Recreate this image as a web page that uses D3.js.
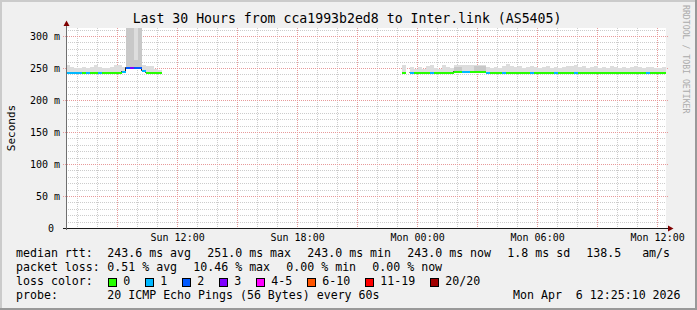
<!DOCTYPE html>
<html>
<head>
<meta charset="utf-8">
<script src="https://cdn.jsdelivr.net/npm/d3@7"></script>
<style>
body{margin:0;background:#f0f0f0;}
svg text{font-family:"DejaVu Sans Mono",monospace;white-space:pre;}
</style>
</head>
<body>
<svg id="chart" width="697" height="310"></svg>
<script>
// time window of the graph and the 12 minute bins of the smoke data
var startTime = new Date(2026,3,5,6,25,10);
var endTime = new Date(2026,3,6,12,25,10);
var binStart = new Date(2026,3,5,6,24,0);
var binMinutes = 12;

// median rtt per bin (ms), null = no data
var median = [
	243,243,243,243,243,243,243,243,243,243,
	243,243,243,243,244.5,251,251,251,251,246.5,
	243,243,243,243,null,null,null,null,null,null,
	null,null,null,null,null,null,null,null,null,null,
	null,null,null,null,null,null,null,null,null,null,
	null,null,null,null,null,null,null,null,null,null,
	null,null,null,null,null,null,null,null,null,null,
	null,null,null,null,null,null,null,null,null,null,
	null,null,null,null,243,null,243,243,243,243,
	243,243,243,243,243,243,243,244.6,244.6,244.6,
	244.6,244.6,244.6,244.6,244.6,243,243,243,243,243,
	243,243,243,243,243,243,243,243,243,243,
	243,243,243,243,243,243,243,243,243,243,
	243,243,243,243,243,243,243,243,243,243,
	243,243,243,243,243,243,243,243,243,243
];
// lost pings (of 20) per bin
var loss = [
	0.2,0.2,0.15,0.1,0,0.1,0,0,0.15,0,
	0,0,0,0,0.2,1.4,2.09,1.6,1.3,0.3,
	0,0,0,0,null,null,null,null,null,null,
	null,null,null,null,null,null,null,null,null,null,
	null,null,null,null,null,null,null,null,null,null,
	null,null,null,null,null,null,null,null,null,null,
	null,null,null,null,null,null,null,null,null,null,
	null,null,null,null,null,null,null,null,null,null,
	null,null,null,null,0,null,0.1,0,0,0,
	0,0.1,0,0,0,0,0,0,0,0.1,
	0.15,0,0,0,0,0.1,0,0,0,0.1,
	0,0,0,0,0,0,0.1,0,0,0,
	0,0,0.1,0,0,0,0,0.1,0,0,
	0,0,0,0,0,0,0,0,0,0,
	0,0,0,0,0,0.1,0,0,0,0
];
// highest ping per bin (ms), outer smoke
var smokeHi = [
	255,252,250,250,251,250,251,255,251,250,
	250,251,254,254,252,420,420,420,420,255,
	253,253,248,247,null,null,null,null,null,null,
	null,null,null,null,null,null,null,null,null,null,
	null,null,null,null,null,null,null,null,null,null,
	null,null,null,null,null,null,null,null,null,null,
	null,null,null,null,null,null,null,null,null,null,
	null,null,null,null,null,null,null,null,null,null,
	null,null,null,null,254,null,251,249,251,249,
	253,254,250,249,255,252,250,255,255,254,
	254,254,255,255,255,251,250,252,250,253,
	257,253,252,253,250,252,253,252,250,252,
	253,250,252,250,251,253,253,254,252,253,
	250,251,253,250,251,250,253,251,250,252,
	250,251,253,252,250,251,251,250,250,251
];
// inner (darker) smoke top per bin (ms)
var smokeMid = [
	null,null,null,null,null,null,null,null,null,null,
	null,null,null,null,null,420,420,262,420,null,
	null,null,null,null,null,null,null,null,null,null,
	null,null,null,null,null,null,null,null,null,null,
	null,null,null,null,null,null,null,null,null,null,
	null,null,null,null,null,null,null,null,null,null,
	null,null,null,null,null,null,null,null,null,null,
	null,null,null,null,null,null,null,null,null,null,
	null,null,null,null,null,null,null,null,null,null,
	null,null,null,null,null,null,null,252,252,null,
	null,null,253,253,253,null,null,null,null,null,
	null,null,null,null,null,null,null,null,null,null,
	null,null,null,null,null,null,null,null,null,null,
	null,null,null,null,null,null,null,null,null,null,
	null,null,null,null,null,null,null,null,null,null
];

var lossLabels = ["0","1","2","3","4-5","6-10","11-19","20/20"];
var lossUpper = [0,1,2,3,5,10,19,20];
var lossColors = ["#26ff00","#00b8ff","#0059ff","#7e00ff","#ff00ff","#ff5500","#ff0000","#a10000"];

var yTicks = [0,50,100,150,200,250,300];
var yTickLabels = ["0\u00a0","50 m","100 m","150 m","200 m","250 m","300 m"];
var xLabelTimes = [new Date(2026,3,5,12), new Date(2026,3,5,18), new Date(2026,3,6,0), new Date(2026,3,6,6), new Date(2026,3,6,12)];

var titleText = "Last 30 Hours from cca1993b2ed8 to Inter.link (AS5405)";
var rttStats = ["243.6 ms avg","251.0 ms max","243.0 ms min","243.0 ms now","1.8 ms sd","138.5   am/s"];
var lossStats = ["0.51 % avg","10.46 % max","0.00 % min","0.00 % now"];
var probeText = "20 ICMP Echo Pings (56 Bytes) every 60s";
var stampText = "Mon Apr  6 12:25:10 2026";

var svg = d3.select("#chart");
var W = 697, H = 310;
var pLeft = 66, pRight = 666, pTop = 28, pBottom = 228;
var charW = 7.0;

var x = d3.scaleTime().domain([startTime,endTime]).range([pLeft,pRight]);
var y = d3.scaleLinear().domain([0,312.5]).range([pBottom,pTop]);

var bins = median.map(function(m,i){
	var t0 = d3.timeMinute.offset(binStart, i*binMinutes);
	return {t0:t0, t1:d3.timeMinute.offset(t0,binMinutes), median:m, loss:loss[i], hi:smokeHi[i], mid:smokeMid[i]};
});
function lossIndex(l){
	for(var k=0;k<lossUpper.length;k++){ if(l<=lossUpper[k]) return k; }
	return lossUpper.length-1;
}
function lineY(v){ return Math.round(y(v)+0.5); }

// background and 3d border
svg.append("rect").attr("width",W).attr("height",H).attr("fill","#f0f0f0");
svg.append("rect").attr("x",0).attr("y",0).attr("width",W).attr("height",2).attr("fill","#cbcbcb");
svg.append("rect").attr("x",0).attr("y",0).attr("width",2).attr("height",H).attr("fill","#cbcbcb");
svg.append("rect").attr("x",0).attr("y",H-2).attr("width",W).attr("height",2).attr("fill","#999999");
svg.append("rect").attr("x",W-2).attr("y",0).attr("width",2).attr("height",H).attr("fill","#999999");

// canvas
svg.append("rect").attr("x",pLeft).attr("y",pTop).attr("width",pRight-pLeft).attr("height",pBottom-pTop).attr("fill","#ffffff");

svg.append("clipPath").attr("id","plotclip")
	.append("rect").attr("x",pLeft).attr("y",pTop).attr("width",pRight-pLeft).attr("height",pBottom-pTop);

// grid
var grid = svg.append("g");
var minorY = d3.range(10,312.5,10).filter(function(v){ return v%50!==0; });
grid.selectAll("line.hmin").data(minorY).enter().append("line")
	.attr("x1",pLeft).attr("x2",pRight)
	.attr("y1",function(d){ return Math.round(y(d))+0.5; })
	.attr("y2",function(d){ return Math.round(y(d))+0.5; })
	.attr("stroke","#cccccc").attr("stroke-dasharray","1,1");
var hours = d3.timeHour.range(startTime,endTime).filter(function(d){ return d.getHours()%3!==0; });
grid.selectAll("line.vmin").data(hours).enter().append("line")
	.attr("x1",function(d){ return Math.floor(x(d))+0.5; })
	.attr("x2",function(d){ return Math.floor(x(d))+0.5; })
	.attr("y1",pTop).attr("y2",pBottom)
	.attr("stroke","#cccccc").attr("stroke-dasharray","1,1");
grid.selectAll("line.hmaj").data(yTicks.slice(1)).enter().append("line")
	.attr("x1",pLeft-3).attr("x2",pRight+2)
	.attr("y1",function(d){ return Math.round(y(d))+0.5; })
	.attr("y2",function(d){ return Math.round(y(d))+0.5; })
	.attr("stroke","#e79a9a").attr("stroke-dasharray","1,1");
var majors = d3.timeHour.every(3).range(startTime,endTime);
grid.selectAll("line.vmaj").data(majors).enter().append("line")
	.attr("x1",function(d){ return Math.floor(x(d))+0.5; })
	.attr("x2",function(d){ return Math.floor(x(d))+0.5; })
	.attr("y1",pTop).attr("y2",pBottom+2)
	.attr("stroke","#e79a9a").attr("stroke-dasharray","1,1");

// smoke
var plot = svg.append("g").attr("clip-path","url(#plotclip)");
var data = bins.filter(function(d){ return d.median!=null; });
plot.selectAll("rect.smoke").data(data.filter(function(d){ return d.hi!=null; })).enter().append("rect")
	.attr("x",function(d){ return Math.round(x(d.t0)); })
	.attr("width",function(d){ return Math.round(x(d.t1))-Math.round(x(d.t0)); })
	.attr("y",function(d){ return Math.round(y(d.hi)); })
	.attr("height",function(d){ return Math.max(0,lineY(d.median)-Math.round(y(d.hi))); })
	.attr("fill","#dddddd");
plot.selectAll("rect.smokemid").data(data.filter(function(d){ return d.mid!=null; })).enter().append("rect")
	.attr("x",function(d){ return Math.round(x(d.t0)); })
	.attr("width",function(d){ return Math.round(x(d.t1))-Math.round(x(d.t0)); })
	.attr("y",function(d){ return Math.round(y(d.mid)); })
	.attr("height",function(d){ return Math.max(0,lineY(d.median)-Math.round(y(d.mid))); })
	.attr("fill","#c8c8c8");

// median: thin dark step line, then loss coloured segments
var medLine = d3.line()
	.defined(function(d){ return d.median!=null; })
	.x(function(d){ return Math.round(x(d.t0))-0.5; })
	.y(function(d){ return lineY(d.median)-0.5; })
	.curve(d3.curveStepAfter);
plot.append("path").datum(bins).attr("d",medLine)
	.attr("fill","none").attr("stroke","#202020").attr("stroke-width",1);
plot.selectAll("rect.med").data(data).enter().append("rect")
	.attr("x",function(d){ return Math.round(x(d.t0)); })
	.attr("width",function(d){ return Math.round(x(d.t1))-Math.round(x(d.t0)); })
	.attr("y",function(d){ return lineY(d.median)-1; })
	.attr("height",2)
	.attr("fill",function(d){ return lossColors[lossIndex(d.loss)]; });

// axes
svg.append("line").attr("x1",pLeft-3).attr("x2",pRight+3).attr("y1",pBottom+0.5).attr("y2",pBottom+0.5)
	.attr("stroke","#1a1a1a");
svg.append("line").attr("x1",pLeft+0.5).attr("x2",pLeft+0.5).attr("y1",pBottom+2).attr("y2",pTop-4)
	.attr("stroke","#6f6f6f");
svg.append("path").attr("d","M63.5,26L66.5,20.5L69.5,26Z").attr("fill","#7f0000");
svg.append("path").attr("d","M668,225.5L673.5,228.5L668,231.5Z").attr("fill","#7f0000");

// axis labels
svg.selectAll("text.ylab").data(yTicks).enter().append("text")
	.attr("x",60).attr("y",function(d){ return Math.round(y(d))+3.5; })
	.attr("text-anchor","end").attr("font-size","10px").attr("fill","#000")
	.text(function(d,i){ return yTickLabels[i]; });
var fmt = d3.timeFormat("%a %H:%M");
svg.selectAll("text.xlab").data(xLabelTimes).enter().append("text")
	.attr("x",function(d){ return x(d); }).attr("y",241)
	.attr("text-anchor","middle").attr("font-size","10px").attr("fill","#000")
	.text(function(d){ return fmt(d); });

svg.append("text").attr("transform","translate(15,128) rotate(-90)")
	.attr("text-anchor","middle").attr("font-size","11px").text("Seconds");
svg.append("text").attr("x",347).attr("y",23).attr("text-anchor","middle")
	.attr("font-size","13.2px").text(titleText);
svg.append("text").attr("transform","translate(683,5) rotate(90)")
	.attr("font-size","8.2px").attr("fill","#ababab").text("RRDTOOL / TOBI OETIKER");

// legend
var lg = svg.append("g").attr("font-size","11.6px").attr("fill","#000");
var valX = 107.3;
function statLine(label,items,yy){
	lg.append("text").attr("x",16).attr("y",yy).text(label);
	var xx = valX;
	items.forEach(function(s){
		lg.append("text").attr("x",xx).attr("y",yy).text(s);
		xx += s.length*charW + 16;
	});
}
statLine("median rtt:",rttStats,257);
statLine("packet loss:",lossStats,271);

lg.append("text").attr("x",16).attr("y",285).text("loss color:");
var lx = valX;
lossLabels.forEach(function(s,i){
	lg.append("rect").attr("x",Math.round(lx+1)+0.5).attr("y",278.5).attr("width",8).attr("height",8)
		.attr("fill",lossColors[i]).attr("stroke","#000");
	lg.append("text").attr("x",lx+16).attr("y",285).text(s);
	lx += 16 + s.length*charW + 14;
});

lg.append("text").attr("x",16).attr("y",299).text("probe:");
lg.append("text").attr("x",valX).attr("y",299).text(probeText);
lg.append("text").attr("x",513).attr("y",299).text(stampText);
</script>
</body>
</html>
